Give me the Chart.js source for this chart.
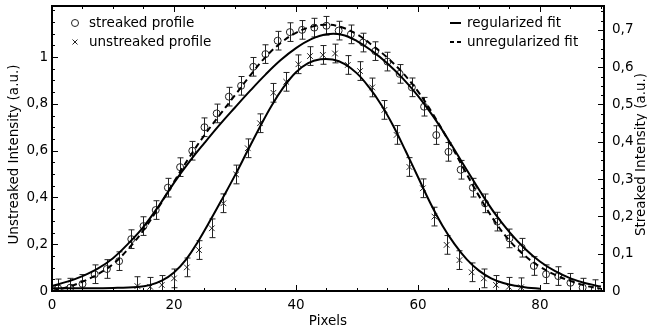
<!DOCTYPE html>
<html>
<head>
<meta charset="UTF-8">
<title>Streaked / unstreaked profile</title>
<script src="https://cdn.jsdelivr.net/npm/chart.js"></script>
<style>
    html, body { margin: 0; padding: 0; background: #fff; }
</style>
</head>
<body>
<canvas id="profileChart" width="647" height="332"></canvas>
<script>
    // measured points, streaked profile (right axis)
    const xStreaked = [1, 3, 5, 7, 9, 11, 13, 15, 17, 19, 21, 23, 25, 27, 29, 31, 33, 35, 37, 39, 41, 43, 45,
                       47, 49, 51, 53, 55, 57, 59, 61, 63, 65, 67, 69, 71, 73, 75, 77, 79, 81, 83, 85, 87, 89];
    const streaked = [0.007, 0.009, 0.019, 0.045, 0.059, 0.080, 0.139, 0.174, 0.217, 0.277, 0.332, 0.376, 0.439,
                      0.476, 0.521, 0.550, 0.601, 0.635, 0.671, 0.694, 0.700, 0.706, 0.711, 0.698, 0.688, 0.666,
                      0.643, 0.615, 0.582, 0.546, 0.494, 0.418, 0.373, 0.325, 0.277, 0.235, 0.186, 0.141, 0.116,
                      0.067, 0.045, 0.040, 0.022, 0.009, 0.005];
    const streakedErr = 0.025;

    // measured points, unstreaked profile (left axis)
    const xUnstreaked = [14.0, 16.1, 18.0, 20.0, 22.1, 24.1, 26.2, 28.1, 30.2, 32.1, 34.1, 36.3, 38.4, 40.4, 42.3, 44.4,
                         46.4, 48.5, 50.5, 52.5, 54.5, 56.5, 58.6, 60.8, 62.7, 64.7, 66.8, 68.8, 70.8, 72.8, 74.9, 76.9];
    const unstreaked = [0.021, 0.018, 0.026, 0.054, 0.101, 0.175, 0.268, 0.375, 0.498, 0.610, 0.717, 0.847, 0.894,
                        0.969, 1.004, 1.009, 1.015, 0.966, 0.940, 0.870, 0.774, 0.667, 0.530, 0.439, 0.318, 0.197,
                        0.132, 0.080, 0.054, 0.026, 0.018, 0.016];
    const unstreakedErr = 0.04;

    // fitted curves
    const xFitStreaked = [0, 2.5, 5, 7.5, 10, 12.5, 15, 17.5, 20, 22.5, 25, 27.5, 30, 32.5, 35, 37.5, 40, 42.5, 45,
                          47.5, 50, 52.5, 55, 57.5, 60, 62.5, 65, 67.5, 70, 72.5, 75, 77.5, 80, 82.5, 85, 87.5, 90];
    const regStreaked = [0.013, 0.025, 0.040, 0.060, 0.088, 0.127, 0.172, 0.228, 0.290, 0.346, 0.397, 0.446, 0.492,
                         0.537, 0.580, 0.619, 0.651, 0.675, 0.688, 0.687, 0.670, 0.643, 0.610, 0.570, 0.523, 0.468,
                         0.405, 0.338, 0.272, 0.210, 0.158, 0.114, 0.079, 0.053, 0.034, 0.021, 0.012];
    const unregStreaked = [0.000, 0.010, 0.025, 0.045, 0.072, 0.113, 0.163, 0.225, 0.293, 0.358, 0.418, 0.472, 0.525,
                           0.578, 0.627, 0.665, 0.692, 0.708, 0.714, 0.707, 0.688, 0.659, 0.625, 0.585, 0.535, 0.473,
                           0.403, 0.328, 0.255, 0.189, 0.135, 0.095, 0.065, 0.043, 0.027, 0.014, 0.006];

    const xFitUnstreaked = [0, 5, 10, 14, 16, 18, 20, 22, 24, 26, 28, 30, 32, 34, 36, 38, 40, 42, 44, 46, 48, 50,
                            52, 54, 56, 58, 60, 62, 64, 66, 68, 70, 72, 74, 76, 78, 80];
    const regUnstreaked = [0.012, 0.012, 0.013, 0.017, 0.025, 0.044, 0.079, 0.135, 0.214, 0.304, 0.398, 0.494, 0.596,
                           0.697, 0.792, 0.872, 0.935, 0.974, 0.990, 0.989, 0.970, 0.930, 0.870, 0.795, 0.703, 0.597,
                           0.487, 0.377, 0.280, 0.200, 0.135, 0.087, 0.054, 0.034, 0.022, 0.014, 0.010];

    // axes
    const xTicks = [0, 20, 40, 60, 80];
    const leftTicks = [0, 0.2, 0.4, 0.6, 0.8, 1];
    const rightTicks = [0, 0.1, 0.2, 0.3, 0.4, 0.5, 0.6, 0.7];

    const FONT = '"DejaVu Sans", Verdana, sans-serif';
    const MARK = '#222';

    function pts(xs, ys) {
        return xs.map((x, i) => ({ x: x, y: ys[i] }));
    }
    function comma(v) {
        return String(v).replace('.', ',');
    }

    // spines, inward ticks, error bars, legends and axis titles (matplotlib look)
    const decor = {
        id: 'decor',
        beforeDatasetsDraw(chart) {
            const ctx = chart.ctx;
            const a = chart.chartArea;
            const xs = chart.scales.x, yl = chart.scales.y, yr = chart.scales.yR;
            ctx.save();
            ctx.beginPath();
            ctx.rect(a.left, a.top, a.right - a.left, a.bottom - a.top);
            ctx.clip();
            ctx.strokeStyle = MARK;
            ctx.lineWidth = 1;
            const bars = (xv, yv, err, ys) => {
                xv.forEach((x, i) => {
                    const px = Math.round(xs.getPixelForValue(x)) + 0.5;
                    const t = ys.getPixelForValue(yv[i] + err);
                    const b = ys.getPixelForValue(yv[i] - err);
                    ctx.beginPath();
                    ctx.moveTo(px, t); ctx.lineTo(px, b);
                    ctx.moveTo(px - 3, t); ctx.lineTo(px + 3, t);
                    ctx.moveTo(px - 3, b); ctx.lineTo(px + 3, b);
                    ctx.stroke();
                });
            };
            bars(xStreaked, streaked, streakedErr, yr);
            bars(xUnstreaked, unstreaked, unstreakedErr, yl);
            ctx.restore();
        },
        afterDraw(chart) {
            const ctx = chart.ctx;
            const a = chart.chartArea;
            const xs = chart.scales.x, yl = chart.scales.y, yr = chart.scales.yR;
            ctx.save();
            ctx.strokeStyle = '#000';

            // ticks
            ctx.lineWidth = 1;
            const tick = (fn, ticks, step, max) => {
                for (let v = 0; v <= max + 1e-9; v += step) {
                    const major = ticks.some(t => Math.abs(t - v) < 1e-6);
                    fn(v, major ? 6 : 3);
                }
            };
            tick((v, len) => {
                const p = Math.round(xs.getPixelForValue(v)) + 0.5;
                ctx.beginPath();
                ctx.moveTo(p, a.bottom); ctx.lineTo(p, a.bottom - len);
                ctx.moveTo(p, a.top); ctx.lineTo(p, a.top + len);
                ctx.stroke();
            }, xTicks, 5, xs.max);
            tick((v, len) => {
                const p = Math.round(yl.getPixelForValue(v)) + 0.5;
                ctx.beginPath();
                ctx.moveTo(a.left, p); ctx.lineTo(a.left + len, p);
                ctx.stroke();
            }, leftTicks, 0.05, yl.max);
            tick((v, len) => {
                const p = Math.round(yr.getPixelForValue(v)) + 0.5;
                ctx.beginPath();
                ctx.moveTo(a.right, p); ctx.lineTo(a.right - len, p);
                ctx.stroke();
            }, rightTicks, 0.025, yr.max);

            // frame
            ctx.lineWidth = 2;
            ctx.strokeRect(a.left, a.top, a.right - a.left, a.bottom - a.top);

            // legends
            ctx.font = '13.5px ' + FONT;
            ctx.fillStyle = '#000';
            ctx.textBaseline = 'middle';
            ctx.textAlign = 'left';
            ctx.strokeStyle = MARK;
            ctx.lineWidth = 1;
            ctx.beginPath();
            ctx.arc(75, 23, 3.5, 0, Math.PI * 2);
            ctx.stroke();
            ctx.beginPath();
            ctx.moveTo(72.5, 39.5); ctx.lineTo(77.5, 44.5);
            ctx.moveTo(77.5, 39.5); ctx.lineTo(72.5, 44.5);
            ctx.stroke();
            ctx.fillText('streaked profile', 89, 23);
            ctx.fillText('unstreaked profile', 89, 42);

            ctx.strokeStyle = '#000';
            ctx.lineWidth = 2;
            ctx.beginPath();
            ctx.moveTo(450, 23); ctx.lineTo(461, 23);
            ctx.stroke();
            ctx.setLineDash([4, 3]);
            ctx.beginPath();
            ctx.moveTo(450, 42); ctx.lineTo(461, 42);
            ctx.stroke();
            ctx.setLineDash([]);
            ctx.fillText('regularized fit', 467, 23);
            ctx.fillText('unregularized fit', 467, 42);

            // axis titles
            ctx.textAlign = 'center';
            ctx.fillText('Pixels', (a.left + a.right) / 2, 321);
            const mid = (a.top + a.bottom) / 2 + 6;
            ctx.save();
            ctx.translate(14, mid);
            ctx.rotate(-Math.PI / 2);
            ctx.fillText('Unstreaked Intensity (a.u.)', 0, 0);
            ctx.restore();
            ctx.save();
            ctx.translate(641, mid);
            ctx.rotate(-Math.PI / 2);
            ctx.fillText('Streaked Intensity (a.u.)', 0, 0);
            ctx.restore();
            ctx.restore();
        }
    };

    const fitStyle = {
        showLine: true,
        pointRadius: 0,
        borderColor: '#000',
        borderWidth: 2,
        fill: false,
        tension: 0.4
    };

    function noPad(s) {
        s.paddingTop = 0;
        s.paddingBottom = 0;
        s.paddingLeft = 0;
        s.paddingRight = 0;
    }

    const profileChart = new Chart(document.getElementById('profileChart'), {
        type: 'scatter',
        data: {
            datasets: [
                Object.assign({ label: 'regularized fit', data: pts(xFitStreaked, regStreaked), yAxisID: 'yR' }, fitStyle),
                Object.assign({ label: 'unregularized fit', data: pts(xFitStreaked, unregStreaked), yAxisID: 'yR',
                                borderDash: [6, 4] }, fitStyle),
                Object.assign({ label: 'regularized fit (unstreaked)', data: pts(xFitUnstreaked, regUnstreaked),
                                yAxisID: 'y' }, fitStyle),
                {
                    label: 'streaked profile',
                    data: pts(xStreaked, streaked),
                    yAxisID: 'yR',
                    pointStyle: 'circle',
                    pointRadius: 3.5,
                    borderColor: MARK,
                    backgroundColor: 'rgba(0,0,0,0)',
                    borderWidth: 1
                },
                {
                    label: 'unstreaked profile',
                    data: pts(xUnstreaked, unstreaked),
                    yAxisID: 'y',
                    pointStyle: 'crossRot',
                    pointRadius: 4,
                    borderColor: MARK,
                    borderWidth: 1
                }
            ]
        },
        options: {
            responsive: false,
            animation: false,
            layout: { padding: { top: 6, left: 0, right: 0, bottom: 0 } },
            plugins: {
                legend: { display: false },
                tooltip: { enabled: false }
            },
            scales: {
                x: {
                    type: 'linear',
                    min: 0,
                    max: 90.5,
                    afterBuildTicks: s => { s.ticks = xTicks.map(v => ({ value: v })); },
                    afterFit: s => { s.height = 41; noPad(s); },
                    grid: { display: false, drawTicks: false },
                    border: { display: false },
                    ticks: { color: '#000', padding: 6, maxRotation: 0, font: { family: FONT, size: 13.5 } }
                },
                y: {
                    position: 'left',
                    min: 0,
                    max: 1.218,
                    afterBuildTicks: s => { s.ticks = leftTicks.map(v => ({ value: v })); },
                    afterFit: s => { s.width = 52; noPad(s); },
                    grid: { display: false, drawTicks: false },
                    border: { display: false },
                    ticks: { color: '#000', padding: 4, callback: comma, font: { family: FONT, size: 13.5 } }
                },
                yR: {
                    position: 'right',
                    min: 0,
                    max: 0.764,
                    afterBuildTicks: s => { s.ticks = rightTicks.map(v => ({ value: v })); },
                    afterFit: s => { s.width = 43; noPad(s); },
                    grid: { display: false, drawTicks: false },
                    border: { display: false },
                    ticks: { color: '#000', padding: 8, callback: comma, font: { family: FONT, size: 13.5 } }
                }
            }
        },
        plugins: [decor]
    });
</script>
</body>
</html>
